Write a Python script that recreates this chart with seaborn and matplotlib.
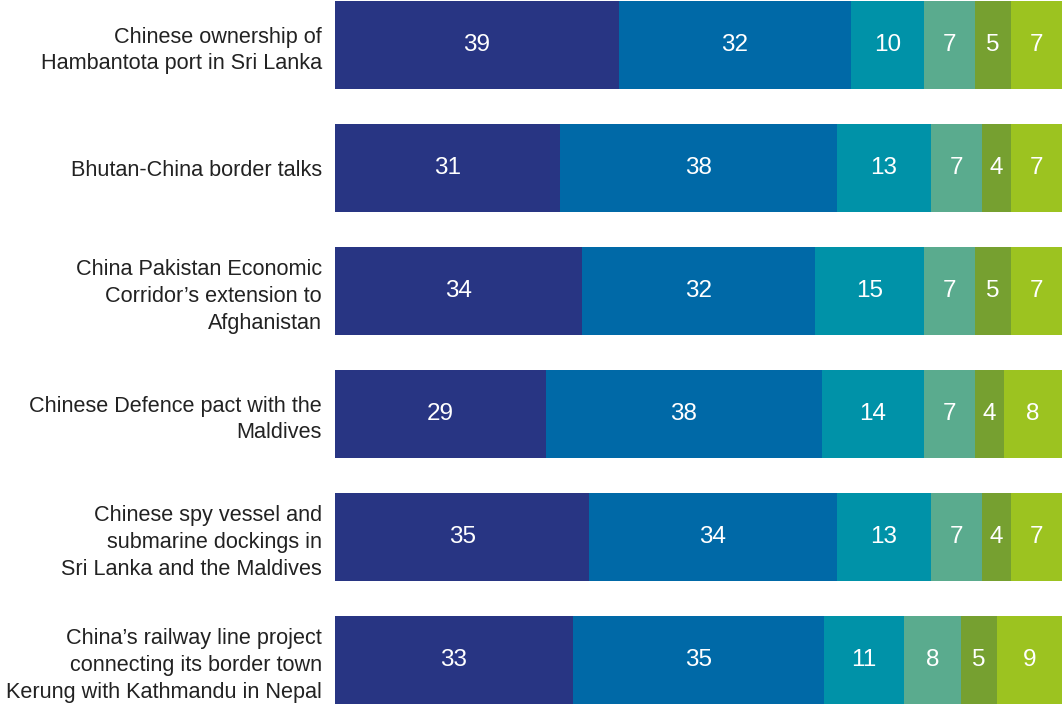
import numpy as np
import pandas as pd
import matplotlib
matplotlib.use("Agg")
import matplotlib.pyplot as plt
import seaborn as sns

categories = [
    "Chinese ownership of\nHambantota port in Sri Lanka",
    "Bhutan-China border talks",
    "China Pakistan Economic\nCorridor\u2019s extension to\nAfghanistan",
    "Chinese Defence pact with the\nMaldives",
    "Chinese spy vessel and\nsubmarine dockings in\nSri Lanka and the Maldives",
    "China\u2019s railway line project\nconnecting its border town\nKerung with Kathmandu in Nepal",
]
series1 = [39, 31, 34, 29, 35, 33]
series2 = [32, 38, 32, 38, 34, 35]
series3 = [10, 13, 15, 14, 13, 11]
series4 = [7, 7, 7, 7, 7, 8]
series5 = [5, 4, 5, 4, 4, 5]
series6 = [7, 7, 7, 8, 7, 9]
colors = ["#283583", "#0069a7", "#0092a8", "#5aab8e", "#76a030", "#9cc320"]

sns.set_theme(style="white")
plt.rcParams['font.family'] = ['Liberation Sans', 'DejaVu Sans']

series = [series1, series2, series3, series4, series5, series6]
vals = np.array(series, dtype=float)          # shape (6 series, 6 cats)
totals = vals.sum(axis=0)
pct = vals / totals * 100.0
cum = np.cumsum(pct, axis=0)

fig = plt.figure(figsize=(10.62, 7.04), dpi=100)
ax = fig.add_axes([335 / 1062, 0, 727 / 1062, 1])

ypos = list(range(len(categories)))
for i in reversed(range(len(series))):
    df = pd.DataFrame({"cat": categories, "val": cum[i]})
    sns.barplot(data=df, x="val", y="cat", orient="h", color=colors[i],
                saturation=1, width=0.715, ax=ax, linewidth=0, edgecolor="none")

for i in range(len(series)):
    for j in range(len(categories)):
        cx = cum[i, j] - pct[i, j] / 2
        ax.text(cx, j, f"{int(vals[i, j])}", ha="center", va="center",
                color="white", fontsize=17.5)

ax.set_xlim(0, 100)
ax.set_ylim(5.355, -0.366)
ax.set_xlabel("")
ax.set_ylabel("")
ax.set_xticks([])
ax.set_yticks(ypos)
ax.set_yticklabels(categories, fontsize=15.6, color="#222222", linespacing=1.36)
ax.tick_params(axis="y", length=0, pad=9.4)
for s in ax.spines.values():
    s.set_visible(False)

fig.savefig("out.png", dpi=100)
